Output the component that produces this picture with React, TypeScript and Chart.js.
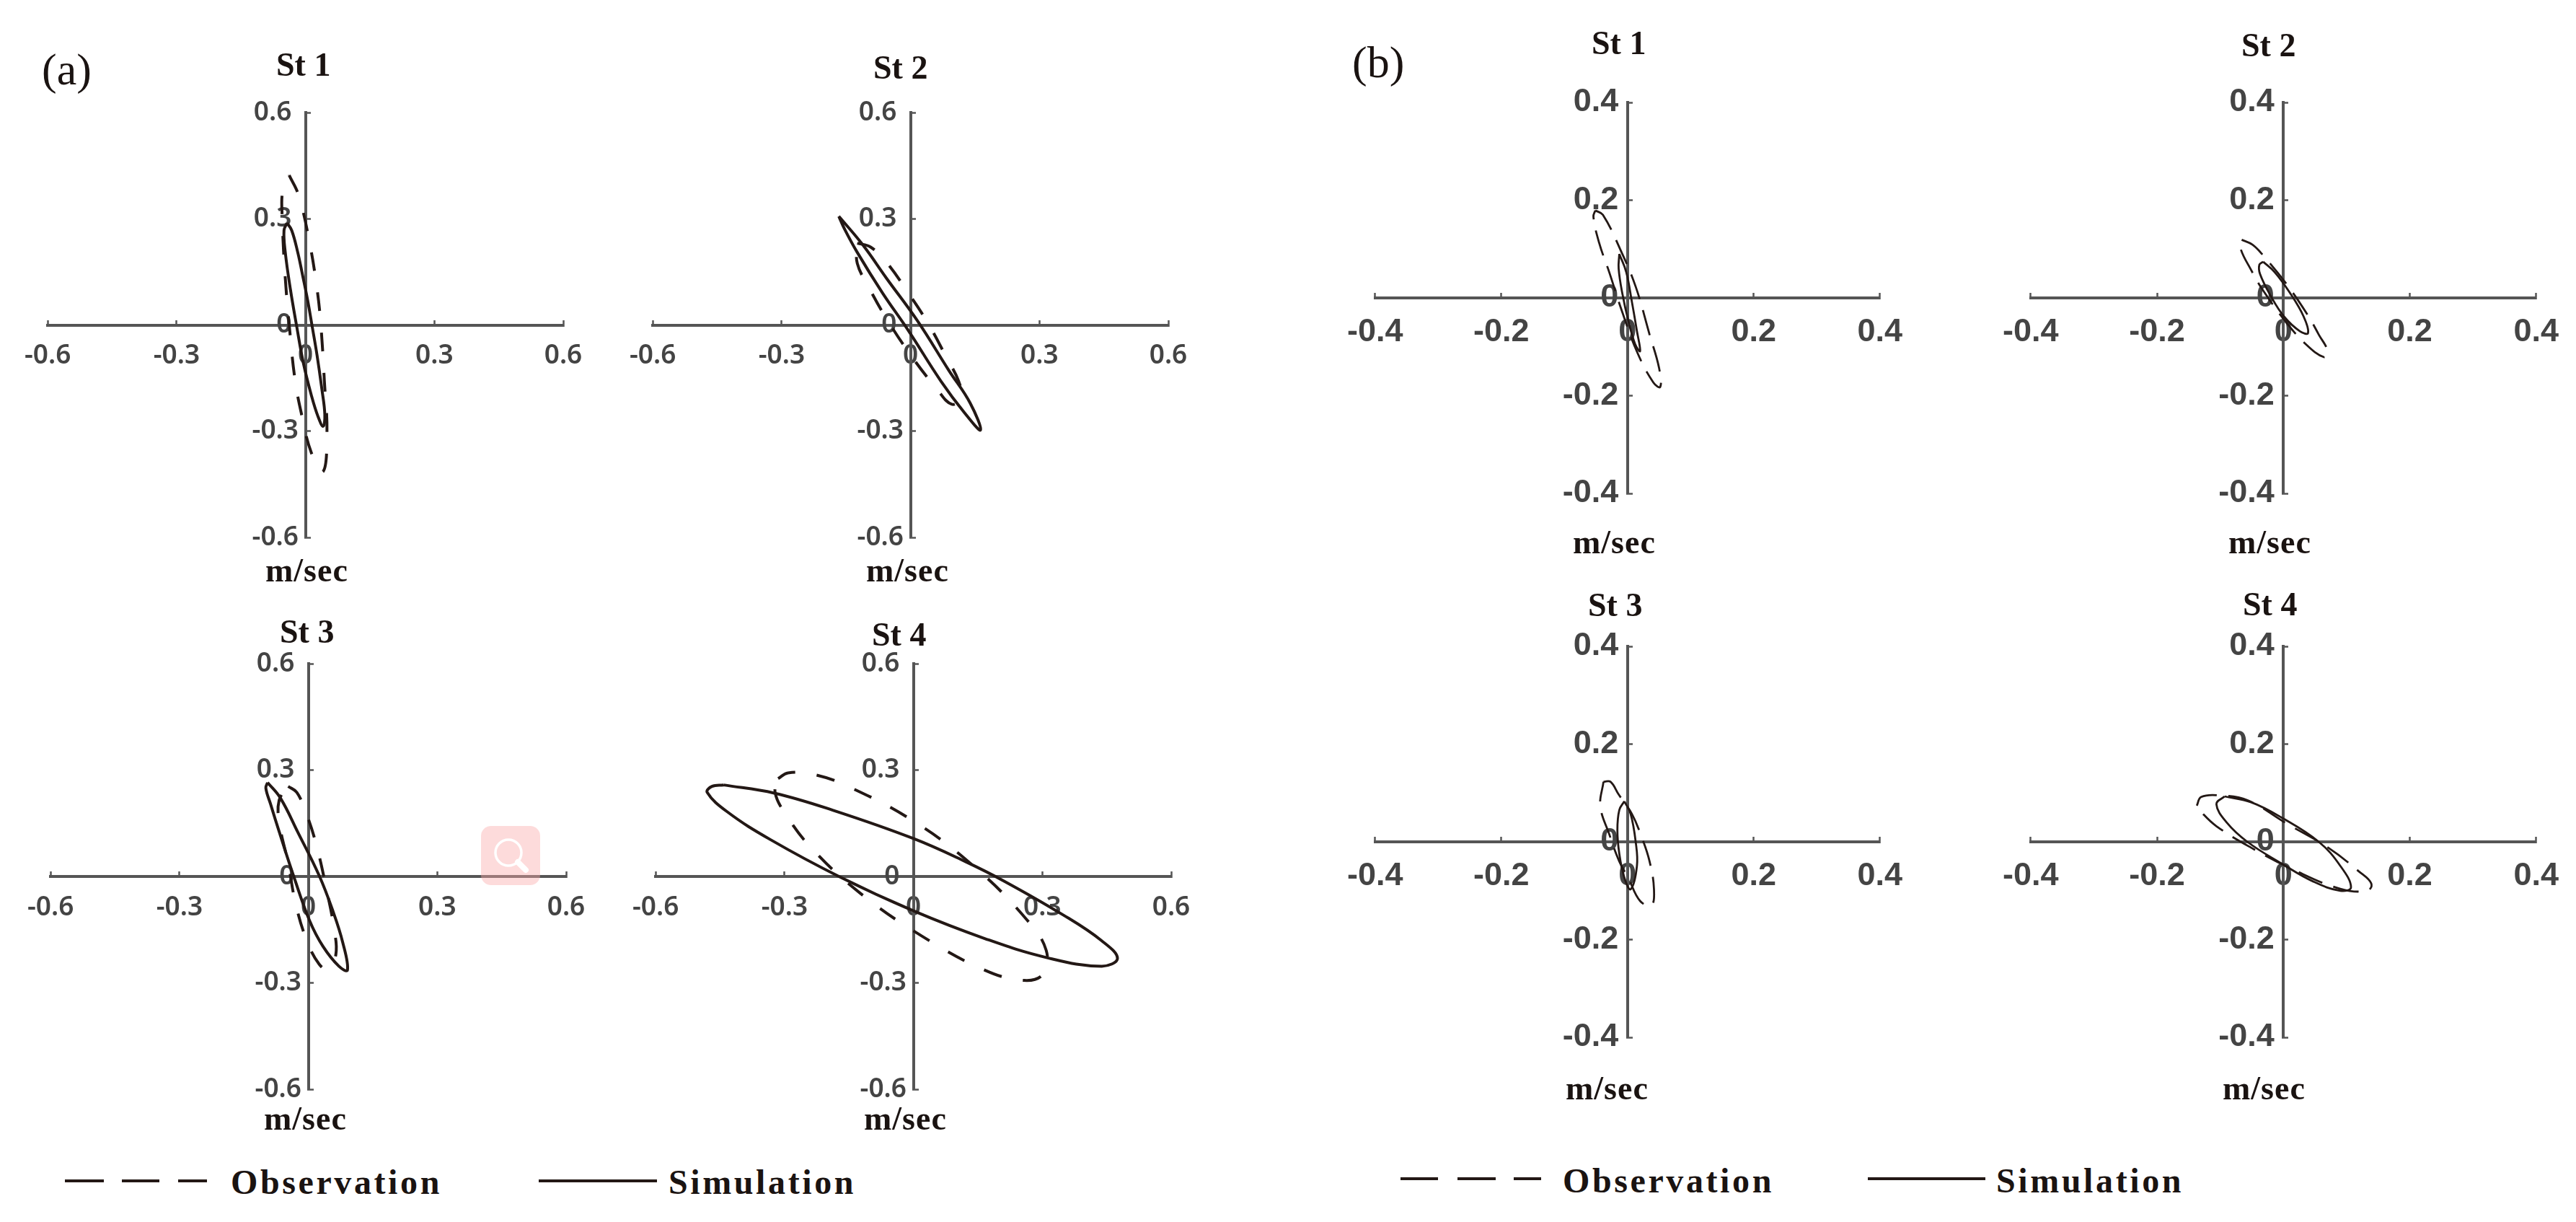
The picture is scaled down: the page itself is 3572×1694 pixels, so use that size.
import React, { useEffect, useRef } from "react";
import { Chart, registerables } from "chart.js";

Chart.register(...registerables);

type P = [number, number];

const ticksA = [-0.6, -0.3, 0, 0.3, 0.6];
const ticksB = [-0.4, -0.2, 0, 0.2, 0.4];
const stationNames = ["St 1", "St 2", "St 3", "St 4"];
const unitLabel = "m/sec";
const obsLabel = "Observation";
const simLabel = "Simulation";

const a1Sim: P[] = [[-0.043,0.288],[-0.032,0.267],[-0.018,0.205],[-0.007,0.142],[0.005,0.07],[0.015,0],[0.027,-0.086],[0.038,-0.18],[0.045,-0.253],[0.041,-0.286],[0.029,-0.258],[0.014,-0.2],[-0.005,-0.107],[-0.021,0],[-0.035,0.1],[-0.047,0.205],[-0.05,0.267]];
const a1Obs: P[] = [[-0.038,0.423],[-0.016,0.366],[0.009,0.236],[0.027,0.101],[0.036,-0.003],[0.044,-0.159],[0.05,-0.305],[0.041,-0.414],[0.014,-0.362],[-0.011,-0.242],[-0.025,-0.149],[-0.036,-0.024],[-0.047,0.132],[-0.054,0.298],[-0.053,0.381]];
const a2Sim: P[] = [[-0.167,0.307],[-0.111,0.226],[-0.056,0.132],[0.016,0.012],[0.089,-0.128],[0.139,-0.221],[0.163,-0.297],[0.125,-0.247],[0.071,-0.159],[-0.006,-0.014],[-0.065,0.09],[-0.124,0.205],[-0.154,0.272]];
const a2Obs: P[] = [[-0.124,0.231],[-0.093,0.22],[-0.056,0.177],[-0.005,0.09],[0.042,0.002],[0.082,-0.088],[0.112,-0.159],[0.118,-0.206],[0.096,-0.224],[0.062,-0.182],[-0.002,-0.081],[-0.056,0.018],[-0.097,0.106],[-0.124,0.174]];
const a3Sim: P[] = [[-0.095,0.265],[-0.065,0.221],[-0.025,0.126],[0.025,0.003],[0.057,-0.097],[0.08,-0.186],[0.091,-0.264],[0.071,-0.253],[0.034,-0.197],[0.003,-0.125],[-0.034,0],[-0.065,0.115],[-0.088,0.204],[-0.099,0.249]];
const a3Obs: P[] = [[-0.047,0.254],[-0.027,0.237],[-0.006,0.182],[0.019,0.087],[0.044,-0.047],[0.059,-0.142],[0.064,-0.22],[0.044,-0.261],[0.025,-0.247],[-0.002,-0.186],[-0.029,-0.08],[-0.047,0.037],[-0.068,0.154],[-0.068,0.215]];
const a4Sim: P[] = [[-0.442,0.258],[-0.324,0.235],[-0.188,0.187],[0,0.107],[0.121,0.042],[0.211,-0.013],[0.348,-0.108],[0.438,-0.181],[0.475,-0.231],[0.438,-0.253],[0.311,-0.229],[0.166,-0.175],[0,-0.097],[-0.17,-0.002],[-0.333,0.104],[-0.433,0.182],[-0.48,0.237],[-0.469,0.254]];
const a4Obs: P[] = [[-0.315,0.276],[-0.292,0.292],[-0.233,0.288],[-0.152,0.254],[0.003,0.154],[0.143,0.026],[0.264,-0.122],[0.309,-0.208],[0.302,-0.275],[0.257,-0.293],[0.166,-0.264],[0.021,-0.169],[-0.124,-0.047],[-0.238,0.081],[-0.301,0.182],[-0.322,0.237]];
const b1Sim: P[] = [[-0.013,0.09],[-0.002,0.053],[0.007,-0.008],[0.015,-0.068],[0.02,-0.109],[0.012,-0.094],[0.001,-0.045],[-0.008,0.008],[-0.014,0.06]];
const b1Obs: P[] = [[-0.051,0.179],[-0.039,0.17],[-0.011,0.098],[0.013,0.023],[0.035,-0.075],[0.05,-0.143],[0.052,-0.182],[0.041,-0.173],[0.016,-0.113],[-0.008,-0.03],[-0.029,0.053],[-0.045,0.113],[-0.054,0.166]];
const b2Sim: P[] = [[-0.032,0.074],[-0.014,0.053],[0.01,0.011],[0.032,-0.038],[0.039,-0.072],[0.026,-0.068],[0.001,-0.038],[-0.02,0.004],[-0.037,0.049],[-0.038,0.068]];
const b2Obs: P[] = [[-0.066,0.119],[-0.049,0.109],[-0.032,0.087],[0.004,0.03],[0.038,-0.034],[0.056,-0.075],[0.07,-0.109],[0.064,-0.121],[0.035,-0.094],[0.004,-0.049],[-0.032,0.015],[-0.051,0.057],[-0.068,0.102]];
const b3Sim: P[] = [[-0.005,0.083],[0.005,0.057],[0.013,0],[0.015,-0.049],[0.005,-0.097],[-0.005,-0.073],[-0.013,-0.024],[-0.016,0.024],[-0.013,0.065]];
const b3Obs: P[] = [[-0.038,0.123],[-0.027,0.123],[-0.014,0.097],[0.007,0.057],[0.023,0.008],[0.035,-0.04],[0.042,-0.097],[0.038,-0.13],[0.02,-0.121],[0.001,-0.073],[-0.013,-0.04],[-0.029,0.016],[-0.043,0.073]];
const b4Sim: P[] = [[-0.093,0.093],[-0.051,0.081],[-0.002,0.049],[0.056,0],[0.09,-0.049],[0.107,-0.093],[0.09,-0.1],[0.047,-0.081],[-0.002,-0.045],[-0.057,0],[-0.09,0.04],[-0.106,0.077]];
const b4Obs: P[] = [[-0.137,0.074],[-0.13,0.092],[-0.1,0.095],[-0.057,0.085],[0.007,0.036],[0.071,-0.012],[0.12,-0.061],[0.139,-0.085],[0.133,-0.1],[0.09,-0.096],[0.016,-0.057],[-0.051,-0.012],[-0.106,0.032],[-0.13,0.061]];

const PAD = 60;
const INK = "#231815";
const AXIS = "#555555";
const TICKTXT = "#444444";
const SERIF = '"Liberation Serif", serif';

const panels = [
  { sim: a1Sim, obs: a1Obs, ticks: ticksA, left: 64, right: 781, top: 156, bottom: 745, big: false },
  { sim: a2Sim, obs: a2Obs, ticks: ticksA, left: 903, right: 1620, top: 156, bottom: 745, big: false },
  { sim: a3Sim, obs: a3Obs, ticks: ticksA, left: 68, right: 785, top: 920, bottom: 1510, big: false },
  { sim: a4Sim, obs: a4Obs, ticks: ticksA, left: 907, right: 1624, top: 920, bottom: 1510, big: false },
  { sim: b1Sim, obs: b1Obs, ticks: ticksB, left: 1898, right: 2608, top: 142, bottom: 684, big: true },
  { sim: b2Sim, obs: b2Obs, ticks: ticksB, left: 2807, right: 3518, top: 142, bottom: 684, big: true },
  { sim: b3Sim, obs: b3Obs, ticks: ticksB, left: 1898, right: 2608, top: 896, bottom: 1438, big: true },
  { sim: b4Sim, obs: b4Obs, ticks: ticksB, left: 2807, right: 3518, top: 896, bottom: 1438, big: true },
];

const toPts = (a: P[]) => [...a, a[0]].map(([x, y]) => ({ x, y }));

function Panel({ p }: { p: (typeof panels)[number] }) {
  const ref = useRef<HTMLCanvasElement | null>(null);
  const w = p.right - p.left + 2 * PAD;
  const h = p.bottom - p.top + 2 * PAD;
  useEffect(() => {
    const lim = p.ticks[p.ticks.length - 1];
    const font = p.big
      ? { family: '"Liberation Sans", sans-serif', size: 45, weight: "bold" as const }
      : { family: '"Noto Sans", sans-serif', size: 37, weight: "600" as const };
    const lw = p.big ? 2.8 : 4;
    const dash = p.big ? [36, 16] : [26, 30];
    const common = {
      grid: { drawOnChartArea: false, drawTicks: true, tickLength: -9, tickWidth: 2.5, tickColor: AXIS },
      border: { display: true, color: AXIS, width: 4 },
    };
    const yLabel = (v: any) => {
      if (p.big) return String(v) + " ";
      return String(v) + (v < 0 ? " " : "  ");
    };
    const chart = new Chart(ref.current!, {
      type: "scatter",
      data: {
        datasets: [
          { label: obsLabel, data: toPts(p.obs), showLine: true, borderColor: INK, borderWidth: lw, borderDash: dash, pointRadius: 0, tension: 0.4, fill: false },
          { label: simLabel, data: toPts(p.sim), showLine: true, borderColor: INK, borderWidth: lw, pointRadius: 0, tension: 0.4, fill: false },
        ],
      },
      options: {
        animation: false,
        responsive: false,
        maintainAspectRatio: false,
        layout: { padding: PAD },
        plugins: { legend: { display: false }, tooltip: { enabled: false }, title: { display: false } },
        scales: {
          x: {
            type: "linear", min: -lim, max: lim, position: { y: 0 } as any, ...common,
            afterBuildTicks: (s: any) => { s.ticks = p.ticks.map((value) => ({ value })); },
            afterFit: (s: any) => { s.height = 0; },
            ticks: { autoSkip: false, maxRotation: 0, color: TICKTXT, font, padding: 30, callback: (v: any) => String(v) },
          },
          y: {
            type: "linear", min: -lim, max: lim, position: { x: 0 } as any, ...common,
            afterBuildTicks: (s: any) => { s.ticks = p.ticks.map((value) => ({ value })); },
            afterFit: (s: any) => { s.width = 0; },
            ticks: { autoSkip: false, color: TICKTXT, font, padding: 24, callback: yLabel },
          },
        },
      },
    });
    return () => chart.destroy();
  }, []);
  return (
    <canvas
      ref={ref}
      width={w}
      height={h}
      style={{ position: "absolute", left: p.left - PAD, top: p.top - PAD, width: w, height: h }}
    />
  );
}

function Txt({ s, x, base, size = 46, bold = true, ls = 0 }: { s: string; x: number; base: number; size?: number; bold?: boolean; ls?: number }) {
  return (
    <div
      style={{
        position: "absolute", left: x, top: base - 0.8375 * size, fontFamily: SERIF, fontSize: size, lineHeight: 1 + "",
        height: size, fontWeight: bold ? 700 : 400, color: "#1a1311", whiteSpace: "nowrap", letterSpacing: ls,
      }}
    >
      {s}
    </div>
  );
}

function Bar({ x1, x2, y }: { x1: number; x2: number; y: number }) {
  return <div style={{ position: "absolute", left: x1, top: y - 2, width: x2 - x1, height: 4, background: INK }} />;
}

function SearchBadge() {
  return (
    <svg width={82} height={82} viewBox="0 0 82 82" style={{ position: "absolute", left: 667, top: 1145 }}>
      <rect x={0} y={0} width={82} height={82} rx={14} fill="rgba(250,170,170,0.42)" />
      <circle cx={38} cy={37} r={18} fill="none" stroke="#ffffff" strokeWidth={3.5} />
      <line x1={51} y1={50} x2={62} y2={61} stroke="#ffffff" strokeWidth={8} strokeLinecap="round" />
    </svg>
  );
}

const titles: [number, number, number][] = [
  [0, 383, 106], [1, 1211, 110], [2, 388, 892], [3, 1209, 896],
  [0, 2207, 76], [1, 3108, 79], [2, 2202, 855], [3, 3110, 854],
];
const units: [number, number][] = [
  [368, 807], [1201, 807], [366, 1567], [1198, 1567],
  [2181, 768], [3090, 768], [2171, 1525], [3082, 1525],
];

export default function App() {
  return (
    <div style={{ position: "absolute", left: 0, top: 0, width: 3572, height: 1694, background: "#fff", overflow: "hidden" }}>
      {panels.map((p, i) => <Panel key={i} p={p} />)}
      {titles.map(([n, x, b], i) => <Txt key={i} s={stationNames[n]} x={x} base={b} />)}
      {units.map(([x, b], i) => <Txt key={i} s={unitLabel} x={x} base={b} ls={1} />)}
      <Txt s="(a)" x={58} base={117} size={62} bold={false} />
      <Txt s="(b)" x={1875} base={107} size={62} bold={false} />
      <SearchBadge />
      <Bar x1={90} x2={144} y={1637} /><Bar x1={169} x2={221} y={1637} /><Bar x1={247} x2={287} y={1637} />
      <Txt s={obsLabel} x={320} base={1655} size={48} ls={3.6} />
      <Bar x1={747} x2={911} y={1637} />
      <Txt s={simLabel} x={927} base={1655} size={48} ls={3.6} />
      <Bar x1={1942} x2={1994} y={1634} /><Bar x1={2021} x2={2074} y={1634} /><Bar x1={2099} x2={2137} y={1634} />
      <Txt s={obsLabel} x={2167} base={1653} size={48} ls={3.6} />
      <Bar x1={2590} x2={2753} y={1634} />
      <Txt s={simLabel} x={2768} base={1653} size={48} ls={3.6} />
    </div>
  );
}
